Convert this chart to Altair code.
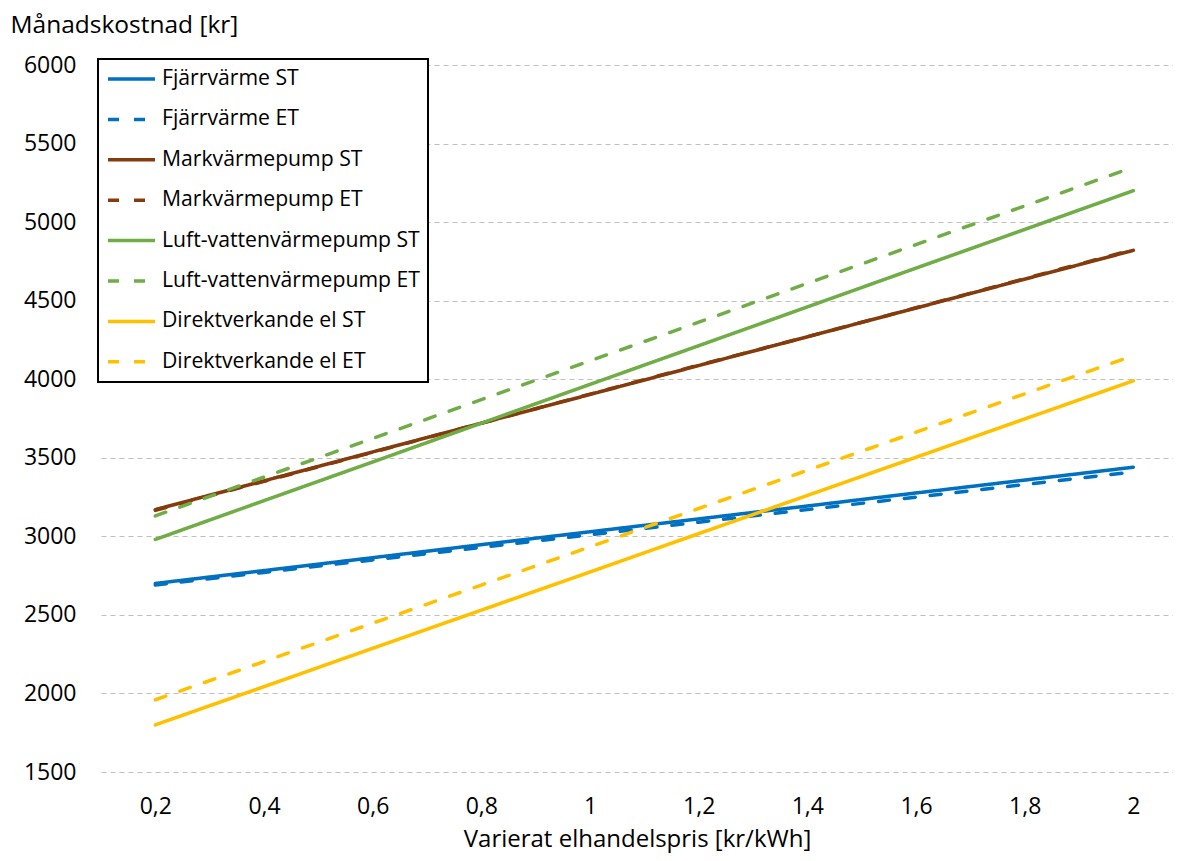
import altair as alt
import pandas as pd

x_vals = [0.2, 0.4, 0.6, 0.8, 1.0, 1.2, 1.4, 1.6, 1.8, 2.0]
y_ticks = [1500, 2000, 2500, 3000, 3500, 4000, 4500, 5000, 5500, 6000]

series_names = [
    "Fjärrvärme ST",
    "Fjärrvärme ET",
    "Markvärmepump ST",
    "Markvärmepump ET",
    "Luft-vattenvärmepump ST",
    "Luft-vattenvärmepump ET",
    "Direktverkande el ST",
    "Direktverkande el ET",
]
series_colors = ["#0070C0", "#0070C0", "#843C0C", "#843C0C",
                 "#70AD47", "#70AD47", "#FFC000", "#FFC000"]

fjarr_st = [2700, 2782, 2864, 2947, 3029, 3111, 3193, 3276, 3358, 3440]
fjarr_et = [2690, 2770, 2850, 2930, 3010, 3090, 3170, 3250, 3330, 3410]
mark_st = [3170, 3353, 3537, 3720, 3903, 4087, 4270, 4453, 4637, 4820]
mark_et = [3165, 3350, 3535, 3720, 3905, 4090, 4270, 4455, 4640, 4825]
luft_st = [2980, 3227, 3473, 3720, 3967, 4213, 4460, 4707, 4953, 5200]
luft_et = [3130, 3377, 3623, 3870, 4117, 4363, 4610, 4857, 5103, 5350]
direkt_st = [1800, 2043, 2287, 2530, 2773, 3017, 3260, 3503, 3747, 3990]
direkt_et = [1960, 2203, 2447, 2690, 2933, 3177, 3420, 3663, 3907, 4150]

all_series = [fjarr_st, fjarr_et, mark_st, mark_et, luft_st, luft_et, direkt_st, direkt_et]

rows = []
for name, vals in zip(series_names, all_series):
    for xv, yv in zip(x_vals, vals):
        rows.append({"serie": name, "x": xv, "v": yv})
df = pd.DataFrame(rows)

dash_range = [[1, 0], [11, 15]] * 4

FONT = "Open Sans"

chart = alt.Chart(df).mark_line(strokeWidth=3.5, strokeCap="round").encode(
    x=alt.X(
        "x:Q",
        scale=alt.Scale(domain=[0.1, 2.073], nice=False, zero=False),
        axis=alt.Axis(
            values=x_vals,
            labelExpr="replace(toString(datum.value), '.', ',')",
            grid=False, ticks=False, domain=False,
            labelFontSize=23, labelColor="#000000", labelPadding=23,
            title="Varierat elhandelspris [kr/kWh]",
            titleFontSize=24, titleFontWeight="normal", titleColor="#000000",
            titleY=74, titleBaseline="alphabetic",
        ),
    ),
    y=alt.Y(
        "v:Q",
        scale=alt.Scale(domain=[1500, 6000], nice=False, zero=False),
        axis=alt.Axis(
            values=y_ticks, format="d",
            grid=True, gridDash=[5, 4], gridColor="#bfbfbf", gridWidth=1,
            ticks=False, domain=False,
            labelFontSize=23, labelColor="#000000", labelPadding=25,
            title="Månadskostnad [kr]",
            titleAngle=0, titleAlign="left", titleX=-91, titleY=-33,
            titleBaseline="alphabetic",
            titleFontSize=24.5, titleFontWeight="normal", titleColor="#000000",
        ),
    ),
    color=alt.Color(
        "serie:N",
        scale=alt.Scale(domain=series_names, range=series_colors),
        legend=alt.Legend(
            title=None, orient="none", legendX=-3, legendY=-6,
            fillColor="white", strokeColor="black",
            padding=8, labelFontSize=21.2, labelColor="#000000",
            symbolType="stroke", symbolSize=2209, symbolStrokeWidth=3.5,
            labelOffset=5, rowPadding=16.4, labelLimit=400,
            clipHeight=24,
        ),
    ),
    strokeDash=alt.StrokeDash(
        "serie:N",
        scale=alt.Scale(domain=series_names, range=dash_range),
        legend=alt.Legend(title=None),
    ),
).properties(
    width=1072,
    height=707,
    autosize=alt.AutoSizeParams(type="none"),
    padding={"left": 93, "top": 57, "right": 0, "bottom": 81},
).configure(
    font=FONT,
).configure_legend(
    strokeWidth=2,
).configure_view(
    stroke=None,
)

chart.save("out.html", embed_options={"renderer": "svg", "actions": False})
